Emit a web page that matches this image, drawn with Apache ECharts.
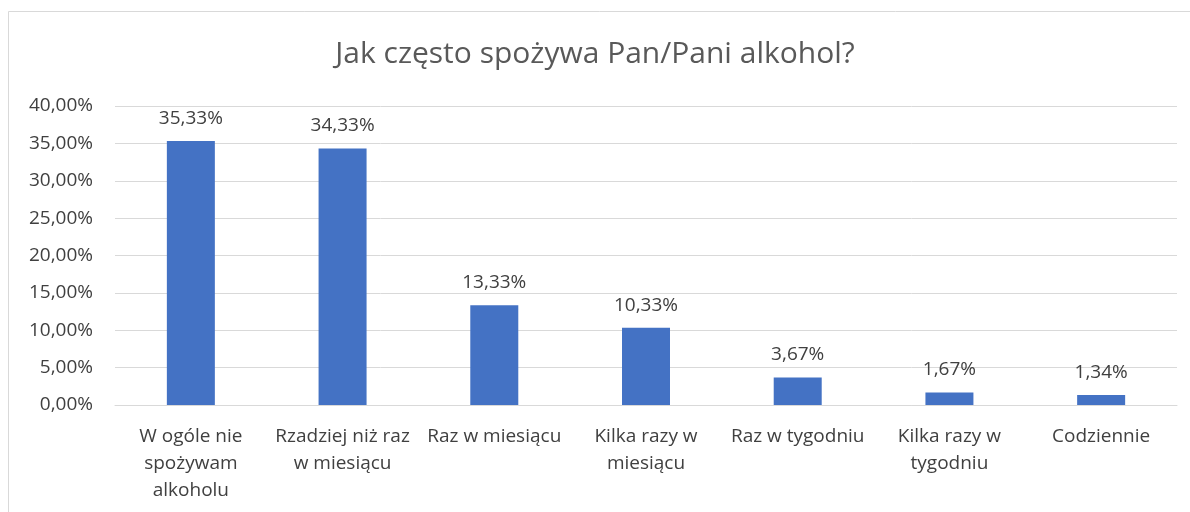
<!DOCTYPE html>
<html>
<head>
<meta charset="utf-8">
<script src="https://cdn.jsdelivr.net/npm/echarts@6/dist/echarts.min.js"></script>
<style>
  html,body{margin:0;padding:0;background:#fff;}
  #chart{width:1190px;height:512px;}
</style>
</head>
<body>
<div id="chart"></div>
<script>
var categories = ['W ogóle nie\nspożywam\nalkoholu', 'Rzadziej niż raz\nw miesiącu', 'Raz w miesiącu',
  'Kilka razy w\nmiesiącu', 'Raz w tygodniu', 'Kilka razy w\ntygodniu', 'Codziennie'];
var values = [35.33, 34.33, 13.33, 10.33, 3.67, 1.67, 1.34];
var titleText = 'Jak często spożywa Pan/Pani alkohol?';

function pct(v){ return v.toFixed(2).replace('.', ',') + '%'; }

var chart = echarts.init(document.getElementById('chart'));
chart.setOption({
  backgroundColor: '#fff',
  animation: false,
  title: {
    text: titleText,
    left: 'center',
    top: 34,
    textStyle: {fontFamily: 'Open Sans', fontSize: 30, fontWeight: 'normal', color: '#595959'}
  },
  graphic: [{
    type: 'rect',
    shape: {x: 8.5, y: 11.5, width: 1200, height: 520},
    style: {fill: 'none', stroke: '#d9d9d9', lineWidth: 1},
    silent: true
  }],
  grid: {left: 115, right: 13, top: 106, bottom: 107},
  xAxis: {
    type: 'category',
    data: categories,
    axisTick: {show: false},
    axisLine: {lineStyle: {color: '#d9d9d9'}},
    axisLabel: {
      interval: 0, margin: 18, color: '#404040',
      fontFamily: 'Open Sans', fontSize: 19, lineHeight: 27
    }
  },
  yAxis: {
    type: 'value',
    min: 0, max: 40, interval: 5,
    axisLabel: {
      formatter: pct, color: '#404040', margin: 22,
      fontFamily: 'Open Sans', fontSize: 19
    },
    splitLine: {lineStyle: {color: '#d9d9d9'}}
  },
  series: [{
    type: 'bar',
    data: values,
    barWidth: 48,
    itemStyle: {color: '#4472c4'},
    label: {
      show: true, position: 'top', distance: 13,
      formatter: function(p){ return pct(p.value); },
      color: '#404040', fontFamily: 'Open Sans', fontSize: 19
    }
  }]
});
</script>
</body>
</html>
